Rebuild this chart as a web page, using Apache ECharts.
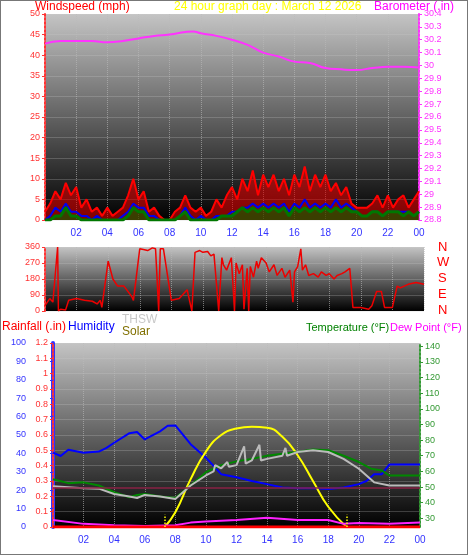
<!DOCTYPE html>
<html><head><meta charset="utf-8">
<script src="https://cdn.jsdelivr.net/npm/echarts@6/dist/echarts.min.js"></script>
<style>html,body{margin:0;padding:0;background:#fff}#c{width:468px;height:555px;box-sizing:border-box;border:1px solid #777}</style>
</head><body><div id="c"></div>
<script>
// wind samples every 20 minutes from 00 to 24
var windGust = [2,4,7,5,9,6,8,3,5,2,3,1,3,1,2,3,6,10,5,7,2,3,1,0,0,2,3,6,3,2,3,1,2,5,3,6,8,5,10,7,12,6,11,8,11,7,10,6,11,8,13,7,11,8,11,7,9,6,8,4,3,3,3,4,6,3,6,3,5,6,3,5,7];
var windAvg  = [0,1,3,2,4,2,2,1,1,0,1,0,0,0,0,1,2,4,3,3,1,1,0,0,0,0,1,3,1,0,1,0,0,1,1,1,2,2,3,3,4,3,4,3,4,3,4,2,4,3,5,3,4,3,4,3,5,3,4,3,2,1,1,2,2,1,2,2,2,2,2,1,2];
var windLow  = [0,0,1,1,3,1,1,0,0,0,0,0,0,0,0,0,1,3,2,2,0,0,0,0,0,0,1,2,0,0,0,0,0,0,1,1,1,2,3,2,3,2,3,2,3,2,3,1,3,2,3,2,3,2,3,2,3,2,3,2,2,1,1,2,2,1,2,2,2,1,2,1,2];
var baroHours = [0,1,2,3,4,5,6,7,8,9,9.5,10,11,12,13,14,15,16,17,18,19,20,21,22,23,24];
var baroVals = [30.17,30.19,30.19,30.19,30.18,30.19,30.21,30.23,30.24,30.26,30.265,30.25,30.23,30.2,30.16,30.1,30.07,30.03,30.02,29.98,29.97,29.965,29.98,29.99,29.99,29.985];
var dirHours = [0,0.3,0.5,0.8,0.85,1,1.3,1.5,2,2.5,3,3.3,3.5,3.6,4,4.3,4.6,5,5.5,5.6,6,6.3,6.5,6.8,7,7.2,7.3,7.5,8,8.5,9,9.3,9.5,9.8,10,10.3,10.5,10.7,11,11.2,11.3,11.5,11.8,12,12.1,12.3,12.5,12.6,12.8,12.9,13,13.2,13.4,13.5,13.7,14,14.2,14.5,14.7,15,15.2,15.5,15.7,15.8,16,16.2,16.3,16.5,16.7,17,17.3,17.5,17.8,18,18.3,18.5,18.8,19,19.3,19.5,20,20.5,20.7,21,21.3,21.5,22,22.3,22.5,23,23.5,24];
var dirVals  = [30,70,50,360,0,10,5,60,70,60,55,40,60,20,280,180,140,140,80,60,350,345,340,355,350,0,350,350,60,70,120,0,330,340,330,335,310,320,0,300,260,230,300,0,270,210,260,10,240,0,250,190,280,240,300,270,220,260,200,240,190,230,50,220,250,350,230,260,200,210,190,220,200,210,180,200,210,220,240,20,20,10,30,110,110,20,20,140,130,150,160,150];
var tempHours = [0,1,2,3,4,5,5.5,6,7,8,9,10,11,12,13,14,15,16,17,18,19,20,20.8,21.5,22,24];
var tempVals  = [55,52.5,53,51,46.7,43.5,45,45.6,44,43,51,59.5,64,66.4,68,70,71.3,72.4,74,73.5,70,66,61.7,60.6,57.4,57.4];
var thswHours = [0,2,3,4,5,5.5,6,7,8,9,10,10.5,10.6,11,11.4,11.5,12,12.5,12.6,13,13.5,13.6,14,15,15.2,15.3,16,17,18,19,20,21,22,24];
var thswVals  = [50.5,49.3,49,45.6,44,43,45,44,42.4,51,57.4,60,64,62,66,63,64,76,65,67,77,67,68,70,75,70,72.4,73.5,72.4,68,61.7,53,51,51];
var dewHours = [0,2,4,6,8,9,10,12,14,16,18,19,20,22,24];
var dewVals  = [29,26.5,25.6,25.2,25.6,27.3,28,29,30.4,29,29,26.5,27,26.5,27.3];
var humHours = [0,0.5,1,2,3,3.5,4,5,5.5,6,7,7.5,8,9,10,11,12,13,14,15,16,17,18,19,20,20.5,21,21.5,22,24];
var humVals  = [40.4,38.6,42,40.4,41,43,45.8,51,51.6,47.6,52,55,55.2,45,37.7,28.7,27,25,23.3,21.5,21,21,20.6,21.5,23.3,25,28.7,28.7,34,34];
var solarHours = [7.3,8,9,10,11,12,13,14,15,16,17,18,19.2];
var solarVals  = [0,8,26,41,50,53.5,54.5,54,49,39,25,11,0];
var tempTicks = [30,40,50,60,70,80,90,100,110,120,130,140];

function zip(h, v) { return h.map(function(x, i) { return [x, v[i]]; }); }
function spread(v) { return v.map(function(y, i) { return [i * 24 / (v.length - 1), y]; }); }
var bg = new echarts.graphic.LinearGradient(0, 0, 0, 1, [{offset: 0, color: '#c4c4c4'}, {offset: 1, color: '#000'}]);
var font = 'Liberation Sans';
function xAx(idx, show) {
  return {type: 'value', gridIndex: idx, min: 0, max: 24, interval: 2,
    axisLine: {show: false}, axisTick: {show: false},
    axisLabel: {show: show, color: '#3333ff', fontSize: 10, fontFamily: font,
      formatter: function(v) { if (v === 0) return ''; var h = v % 24; return (h < 10 ? '0' : '') + h; }},
    splitLine: {show: true, lineStyle: {color: '#bbb', type: 'dotted', opacity: 0.6}}};
}
function yAx(idx, o) {
  var col = o.color;
  return Object.assign({type: 'value', gridIndex: idx,
    axisLine: {show: true, lineStyle: {color: col, type: 'dotted', width: 2}},
    axisTick: {show: true, length: 3, lineStyle: {color: col}},
    axisLabel: {color: col, fontSize: 9, fontFamily: font, margin: 5},
    splitLine: {show: false}}, o.ext);
}
var chart = echarts.init(document.getElementById('c'));
chart.setOption({
  animation: false,
  grid: [
    {left: 44, width: 374, top: 13, height: 206, show: true, backgroundColor: bg, borderWidth: 0},
    {left: 44, width: 379, top: 246, height: 64, show: true, backgroundColor: bg, borderWidth: 0},
    {left: 52, width: 367, top: 342, height: 184, show: true, backgroundColor: bg, borderWidth: 0}
  ],
  xAxis: [xAx(0, true), xAx(1, false), xAx(2, true)],
  yAxis: [
    yAx(0, {color: '#ff3333', ext: {position: 'left', min: 0, max: 50, interval: 5, splitLine: {show: true, lineStyle: {color: '#ccc', type: 'solid', opacity: 0.25}}}}),
    yAx(0, {color: '#ff33ff', ext: {position: 'right', min: 28.8, max: 30.4, interval: 0.1,
      axisLabel: {color: '#ff33ff', fontSize: 9, fontFamily: font, margin: 5, formatter: function(v) { return +v.toFixed(1); }}}}),
    yAx(1, {color: '#ff3333', ext: {position: 'left', min: 0, max: 360, interval: 90, splitLine: {show: true, lineStyle: {color: '#ccc', opacity: 0.25}}}}),
    yAx(2, {color: '#3333ff', ext: {position: 'left', min: 0, max: 100, interval: 10, offset: 22,
      axisLine: {show: true, lineStyle: {color: '#3333ff', width: 4}}}}),
    yAx(2, {color: '#ff3333', ext: {position: 'left', min: 0, max: 1.2, interval: 0.1,
      axisLabel: {color: '#ff3333', fontSize: 9, fontFamily: font, margin: 5, formatter: function(v) { return +v.toFixed(1); }},
      splitLine: {show: true, lineStyle: {color: '#ccc', opacity: 0.25}}}}),
    yAx(2, {color: '#339933', ext: {position: 'right', min: 24.5, max: 142,
      axisLabel: {color: '#339933', fontSize: 9, fontFamily: font, margin: 5, customValues: tempTicks},
      axisTick: {show: true, length: 3, lineStyle: {color: '#339933'}, customValues: tempTicks}}})
  ],
  series: [
    {type: 'line', xAxisIndex: 0, yAxisIndex: 0, symbol: 'none', data: spread(windGust),
      lineStyle: {color: '#ff0000', width: 2}, areaStyle: {color: 'rgba(235,0,0,0.8)'}},
    {type: 'line', xAxisIndex: 0, yAxisIndex: 0, symbol: 'none', data: spread(windAvg), lineStyle: {color: '#0000ee', width: 2}},
    {type: 'line', xAxisIndex: 0, yAxisIndex: 0, symbol: 'none', data: spread(windLow),
      lineStyle: {color: '#007700', width: 3}, areaStyle: {color: 'rgba(0,110,0,0.8)'}},
    {type: 'line', xAxisIndex: 0, yAxisIndex: 1, symbol: 'none', smooth: true, data: zip(baroHours, baroVals), lineStyle: {color: '#ff33ff', width: 2}},
    {type: 'line', xAxisIndex: 1, yAxisIndex: 2, symbol: 'none', data: zip(dirHours, dirVals), lineStyle: {color: '#ee0000', width: 1.5}},
    {type: 'line', xAxisIndex: 2, yAxisIndex: 3, symbol: 'none', data: zip(humHours, humVals), lineStyle: {color: '#0000ff', width: 2}},
    {type: 'line', xAxisIndex: 2, yAxisIndex: 3, symbol: 'none', smooth: true, data: zip(solarHours, solarVals), lineStyle: {color: '#ffff00', width: 2}},
    {type: 'line', xAxisIndex: 2, yAxisIndex: 5, symbol: 'none', data: zip(tempHours, tempVals), lineStyle: {color: '#008800', width: 2},
      markLine: {silent: true, symbol: 'none', label: {show: false}, lineStyle: {color: '#882244', type: 'solid', width: 1.5}, data: [{yAxis: 49.5}]}},
    {type: 'line', xAxisIndex: 2, yAxisIndex: 5, symbol: 'none', data: zip(thswHours, thswVals), lineStyle: {color: '#bbbbbb', width: 2}},
    {type: 'line', xAxisIndex: 2, yAxisIndex: 5, symbol: 'none', data: zip(dewHours, dewVals), lineStyle: {color: '#ff22ff', width: 2}},
    {type: 'line', xAxisIndex: 2, yAxisIndex: 4, symbol: 'none', data: [[0, 0], [24, 0]], lineStyle: {color: '#ff0000', width: 3},
      markLine: {silent: true, symbol: 'none', label: {show: false}, lineStyle: {color: '#ffff00', type: 'dotted', width: 1.5},
        data: [[{coord: [7.3, 0]}, {coord: [7.3, 0.08]}], [{coord: [19.2, 0]}, {coord: [19.2, 0.08]}]]}}
  ],
  graphic: [
    {type: 'text', left: 34, top: 0, style: {text: 'Windspeed (mph)', fill: '#ff0000', font: '12px ' + font}},
    {type: 'text', left: 173, top: 0, style: {text: '24 hour graph day : March 12 2026', fill: '#ffff00', font: '12px ' + font}},
    {type: 'text', left: 373, top: 0, style: {text: 'Barometer (.in)', fill: '#ff00ff', font: '12px ' + font}},
    {type: 'text', left: 437, top: 240, style: {text: 'N', fill: '#ff0000', font: '13px ' + font}},
    {type: 'text', left: 436, top: 255, style: {text: 'W', fill: '#ff0000', font: '13px ' + font}},
    {type: 'text', left: 437, top: 271, style: {text: 'S', fill: '#ff0000', font: '13px ' + font}},
    {type: 'text', left: 437, top: 287, style: {text: 'E', fill: '#ff0000', font: '13px ' + font}},
    {type: 'text', left: 437, top: 303, style: {text: 'N', fill: '#ff0000', font: '13px ' + font}},
    {type: 'text', left: 1, top: 320, style: {text: 'Rainfall (.in)', fill: '#ff0000', font: '12px ' + font}},
    {type: 'text', left: 67, top: 320, style: {text: 'Humidity', fill: '#0000ff', font: '12px ' + font}},
    {type: 'text', left: 121, top: 313, style: {text: 'THSW', fill: '#c8c8c8', font: '12px ' + font}},
    {type: 'text', left: 121, top: 325, style: {text: 'Solar', fill: '#807000', font: '12px ' + font}},
    {type: 'text', left: 305, top: 321, style: {text: 'Temperature (°F)', fill: '#008000', font: '11px ' + font}},
    {type: 'text', left: 389, top: 321, style: {text: 'Dew Point (°F)', fill: '#ff00ff', font: '11px ' + font}}
  ]
});
</script></body></html>
